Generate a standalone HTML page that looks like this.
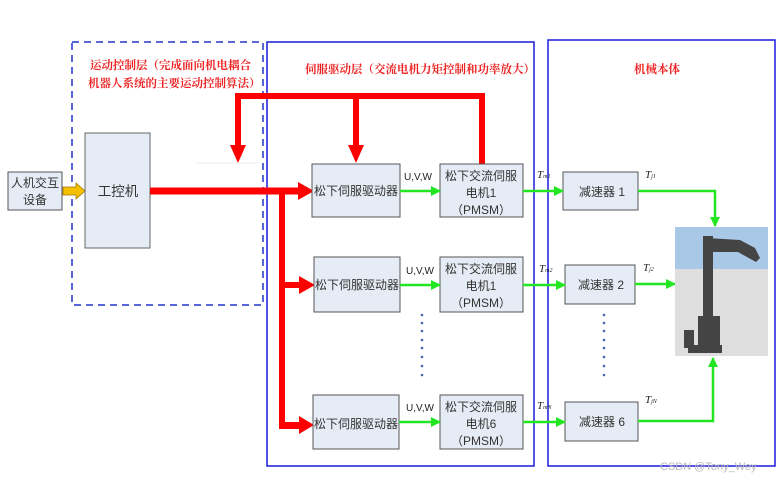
<!DOCTYPE html>
<html><head><meta charset="utf-8"><style>
body{margin:0;background:#fff;}
svg{display:block;font-family:"Liberation Sans","Noto Sans CJK SC",sans-serif;}
</style></head><body>
<svg width="780" height="478" viewBox="0 0 780 478" xmlns="http://www.w3.org/2000/svg">
<defs>
<marker id="g" markerWidth="10" markerHeight="10" refX="9" refY="5" orient="auto" markerUnits="userSpaceOnUse"><path d="M0,0 L10,5 L0,10 Z" fill="#22e622"/></marker>
</defs>
<rect width="780" height="478" fill="#fff"/>
<!-- layer boxes -->
<rect x="72" y="42" width="191" height="263" fill="none" stroke="#2233cc" stroke-width="1.5" stroke-dasharray="7,5"/>
<rect x="267" y="42" width="267" height="424" fill="none" stroke="#1a1add" stroke-width="1.5"/>
<rect x="548" y="40" width="227" height="426" fill="none" stroke="#1a1add" stroke-width="1.5"/>
<g fill="#ee2222" font-size="11.5" font-weight="bold" font-family="'Noto Serif CJK SC','Noto Sans CJK SC',serif">
<text x="90" y="69">运动控制层（完成面向机电耦合</text>
<text x="88" y="87">机器人系统的主要运动控制算法）</text>
<text x="305" y="73">伺服驱动层（交流电机力矩控制和功率放大）</text>
<text x="634" y="73">机械本体</text>
</g>
<!-- human box -->
<rect x="8" y="172" width="54" height="38" fill="#e6ecf5" stroke="#555"/>
<text x="35" y="187" font-size="12" text-anchor="middle" fill="#333">人机交互</text>
<text x="35" y="204" font-size="12" text-anchor="middle" fill="#333">设备</text>
<path d="M63,187 L76,187 L76,183 L85,191 L76,199 L76,195 L63,195 Z" fill="#f5c000" stroke="#a07a00" stroke-width="0.8"/>
<rect x="85" y="133" width="65" height="115" fill="#e6ecf5" stroke="#666"/>
<text x="118" y="196" font-size="13.5" text-anchor="middle" fill="#333">工控机</text>
<!-- red lines -->
<g fill="#ff0000">
<rect x="150" y="187.5" width="150" height="7"/>
<path d="M298,182 L314,191 L298,200 Z"/>
<rect x="279" y="187.5" width="6" height="241"/>
<rect x="279" y="282" width="22" height="6"/>
<path d="M299,276 L315,285 L299,294 Z"/>
<rect x="279" y="422" width="22" height="7"/>
<path d="M299,416 L314,425 L299,434 Z"/>
<rect x="235" y="93" width="250" height="6"/>
<rect x="235" y="93" width="6" height="56"/>
<path d="M230,145 L246,145 L238,163 Z"/>
<rect x="353" y="93" width="6" height="56"/>
<path d="M348,145 L364,145 L356,163 Z"/>
<rect x="479" y="93" width="6" height="73"/>
</g>
<line x1="195" y1="163" x2="258" y2="163" stroke="#ddd" stroke-width="0.6"/>
<!-- drivers & motors -->
<g fill="#e6ecf5" stroke="#555">
<rect x="312" y="164" width="88" height="53"/>
<rect x="314" y="257" width="86" height="55"/>
<rect x="313" y="395" width="86" height="54"/>
<rect x="440" y="164" width="83" height="53"/>
<rect x="440" y="257" width="83" height="55"/>
<rect x="440" y="395" width="83" height="54"/>
<rect x="563" y="172" width="75" height="38"/>
<rect x="565" y="265" width="70" height="39"/>
<rect x="565" y="402" width="73" height="39"/>
</g>
<g font-size="12" fill="#333" text-anchor="middle">
<text x="356" y="195">松下伺服驱动器</text>
<text x="357" y="289">松下伺服驱动器</text>
<text x="356" y="428">松下伺服驱动器</text>
<text x="481" y="180">松下交流伺服</text><text x="481" y="197">电机1</text><text x="481" y="214">（PMSM）</text>
<text x="481" y="273">松下交流伺服</text><text x="481" y="290">电机1</text><text x="481" y="307">（PMSM）</text>
<text x="481" y="411">松下交流伺服</text><text x="481" y="428">电机6</text><text x="481" y="445">（PMSM）</text>
<text x="602" y="196">减速器 1</text>
<text x="601" y="289">减速器 2</text>
<text x="602" y="426">减速器 6</text>
</g>
<g font-size="10" fill="#222" text-anchor="middle">
<text x="418" y="180">U,V,W</text><text x="420" y="274">U,V,W</text><text x="420" y="411">U,V,W</text>
</g>
<g font-size="11" font-style="italic" fill="#222" font-family="'Liberation Serif',serif">
<text x="537" y="178">T<tspan font-size="6">m1</tspan></text>
<text x="539" y="272">T<tspan font-size="6">m2</tspan></text>
<text x="537" y="409">T<tspan font-size="6">mN</tspan></text>
<text x="645" y="178">T<tspan font-size="6">j1</tspan></text>
<text x="643" y="271">T<tspan font-size="6">j2</tspan></text>
<text x="645" y="403">T<tspan font-size="6">jN</tspan></text>
</g>
<!-- green -->
<g stroke="#22e622" stroke-width="2.5" fill="none" marker-end="url(#g)">
<line x1="400" y1="191" x2="440" y2="191"/>
<line x1="400" y1="285" x2="440" y2="285"/>
<line x1="399" y1="422" x2="440" y2="422"/>
<line x1="523" y1="191" x2="563" y2="191"/>
<line x1="523" y1="285" x2="565" y2="285"/>
<line x1="523" y1="422" x2="565" y2="422"/>
<polyline points="638,191 715,191 715,226"/>
<line x1="635" y1="284" x2="675" y2="284"/>
<polyline points="638,421 713,421 713,358"/>
</g>
<!-- dots -->
<g fill="#4466aa">
<circle cx="422" cy="315" r="1.3"/><circle cx="422" cy="323" r="1.3"/><circle cx="422" cy="331" r="1.3"/><circle cx="422" cy="340" r="1.3"/><circle cx="422" cy="348" r="1.3"/><circle cx="422" cy="357" r="1.3"/><circle cx="422" cy="366" r="1.3"/><circle cx="422" cy="375" r="1.3"/>
<circle cx="604" cy="315" r="1.3"/><circle cx="604" cy="323" r="1.3"/><circle cx="604" cy="331" r="1.3"/><circle cx="604" cy="340" r="1.3"/><circle cx="604" cy="348" r="1.3"/><circle cx="604" cy="357" r="1.3"/><circle cx="604" cy="366" r="1.3"/><circle cx="604" cy="375" r="1.3"/>
</g>
<!-- robot -->
<rect x="675" y="227" width="93" height="42" fill="#a9c8e8"/>
<rect x="675" y="269" width="93" height="87" fill="#dedede"/>
<g fill="#444">
<rect x="703" y="236" width="10" height="85"/>
<path d="M707,238 L740,240 L755,248 L760,258 L756,262 L738,252 L712,252 Z"/>
<rect x="698" y="316" width="22" height="34"/>
<rect x="684" y="330" width="10" height="18"/>
<rect x="688" y="345" width="34" height="8"/>
</g>
<text x="660" y="470" font-size="11" fill="#bbb">CSDN @Tony_Wey</text>
</svg>
</body></html>
